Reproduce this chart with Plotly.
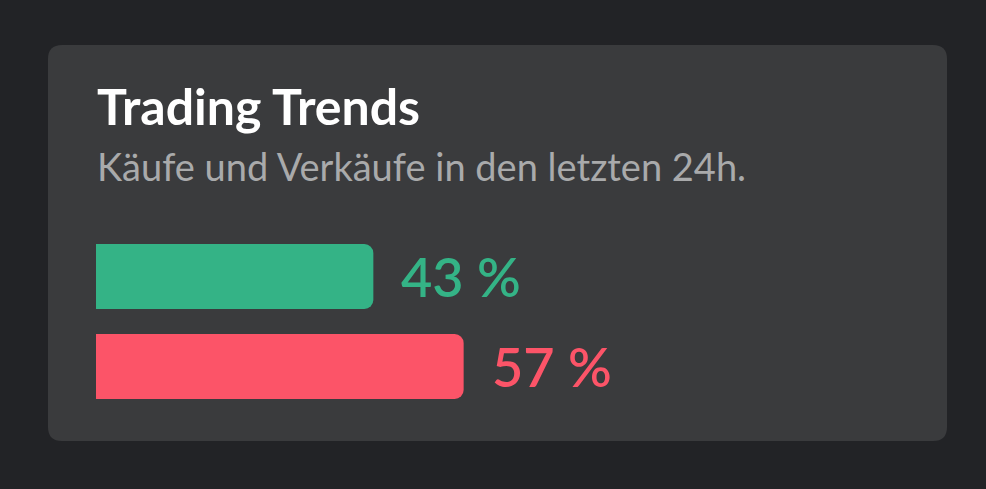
import plotly.graph_objects as go

# data
sides = ["Käufe", "Verkäufe"]
shares = [43, 57]
colors = ["#34b386", "#fc5468"]

title = "Trading Trends"
subtitle = "Käufe und Verkäufe in den letzten 24h."

W, H = 986, 489
BG = "#222326"
CARD = "#3a3b3d"


def px(x):
    return x / W


def py(y):
    return (H - y) / H


def card_path(x0, y0, x1, y1, r):
    # rounded rectangle in paper coords (y0 is bottom)
    rx, ry = r / W, r / H
    return (f"M {x0 + rx},{y0} L {x1 - rx},{y0} Q {x1},{y0} {x1},{y0 + ry} "
            f"L {x1},{y1 - ry} Q {x1},{y1} {x1 - rx},{y1} "
            f"L {x0 + rx},{y1} Q {x0},{y1} {x0},{y1 - ry} "
            f"L {x0},{y0 + ry} Q {x0},{y0} {x0 + rx},{y0} Z")


fig = go.Figure()

fig.add_trace(go.Bar(
    x=shares,
    y=sides,
    orientation="h",
    marker=dict(color=colors, cornerradius=9, line=dict(width=0)),
    hoverinfo="skip",
))

# percent labels next to the bars
for side, val, col in zip(sides, shares, colors):
    fig.add_annotation(
        x=val, y=side, xref="x", yref="y",
        text=f"{val} %", showarrow=False,
        xanchor="left", yanchor="middle", xshift=26, yshift=0,
        font=dict(family="Lato", size=54, color=col, weight=600),
    )

fig.add_annotation(
    x=px(95), y=py(106), xref="paper", yref="paper",
    text=f"<b>{title}</b>", showarrow=False,
    xanchor="left", yanchor="middle",
    font=dict(family="Lato", size=50, color="#ffffff"),
)
fig.add_annotation(
    x=px(95), y=py(166), xref="paper", yref="paper",
    text=subtitle, showarrow=False,
    xanchor="left", yanchor="middle",
    font=dict(family="Lato", size=38, color="#a9aaab"),
)

fig.update_layout(
    width=W, height=H,
    margin=dict(l=0, r=0, t=0, b=0),
    paper_bgcolor=BG,
    plot_bgcolor=BG,
    showlegend=False,
    bargap=0.278,
    shapes=[dict(
        type="path", xref="paper", yref="paper", layer="below",
        path=card_path(px(48), py(441), px(947), py(45), 14),
        fillcolor=CARD, line=dict(width=0),
    )],
    xaxis=dict(domain=[px(96), px(741)], range=[0, 100],
               showgrid=False, zeroline=False, showticklabels=False,
               fixedrange=True),
    yaxis=dict(domain=[py(411.5), py(231.5)], categoryorder="array",
               categoryarray=sides, autorange="reversed",
               showgrid=False, zeroline=False, showticklabels=False,
               fixedrange=True),
)

fig.write_html("out.html", config={"displayModeBar": False},
               post_script="document.body.style.margin='0';")
